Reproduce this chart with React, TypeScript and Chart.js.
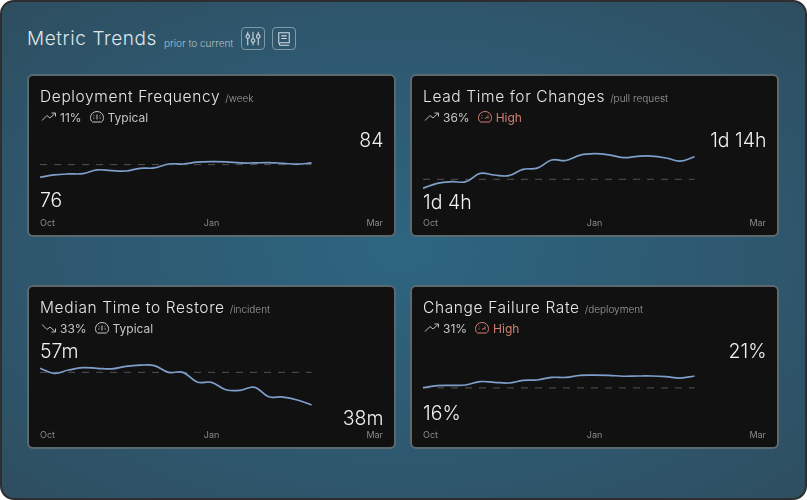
import React, { useEffect, useRef } from "react";
import { Chart, registerables } from "chart.js";

Chart.register(...registerables);

const xLabels = ["Oct","","","","","","","","","","","","Jan","","","","","","","","","","","","Mar"];

const deployValues = [76,77.3,77.85,78,80.1,79.7,79.5,81,81.2,83.4,83.4,84.4,84.7,84.6,84,84,84.2,83.8,83.3,84];
const deployRef = [83.05,83.05,83.05,83.05,83.05,83.05,83.05,83.05,83.05,83.05,83.05,83.05,83.05,83.05,83.05,83.05,83.05,83.05,83.05,83.05];

const leadValues = [28,29.56,30.09,30.09,32.7,32.2,32,34,34.4,36.95,36.8,38.5,38.95,38.6,37.7,38.1,38.2,37.6,36.6,38];
const leadRef = [30.85,30.85,30.85,30.85,30.85,30.85,30.85,30.85,30.85,30.85,30.85,30.85,30.85,30.85,30.85,30.85,30.85,30.85,30.85,30.85];

const restoreValues = [57,54.4,56.1,57.3,57,56.7,58,58.6,58.4,54.9,54.9,49.9,49.7,45.9,45.6,47.2,42.3,42.1,40.6,38];
const restoreRef = [54.9,54.9,54.9,54.9,54.9,54.9,54.9,54.9,54.9,54.9,54.9,54.9,54.9,54.9,54.9,54.9,54.9,54.9,54.9,54.9];

const failureValues = [16,16.86,17,17.14,18.6,18.3,18,19.1,19.3,20.4,20.4,21.3,21.4,21.3,20.9,21,21,20.7,20.1,21];
const failureRef = [15.9,15.9,15.9,15.9,15.9,15.9,15.9,15.9,15.9,15.9,15.9,15.9,15.9,15.9,15.9,15.9,15.9,15.9,15.9,15.9];

const FONT = "Inter, sans-serif";

type CardCfg = {
  left: number; top: number; height: number; padTop: number;
  title: string; unit: string;
  pct: string; down: boolean; status: string; high: boolean;
  first: string; firstY: number; last: string; lastY: number;
  values: number[]; ref: number[]; min: number; max: number;
};

const cards: CardCfg[] = [
  { left: 28, top: 75, height: 162, padTop: 55, title: "Deployment Frequency", unit: "/week", pct: "11%", down: false, status: "Typical", high: false, first: "76", firstY: 199.5, last: "84", lastY: 139.5, values: deployValues, ref: deployRef, min: 57.7, max: 102.4 },
  { left: 411, top: 75, height: 162, padTop: 55, title: "Lead Time for Changes", unit: "/pull request", pct: "36%", down: false, status: "High", high: true, first: "1d 4h", firstY: 201.5, last: "1d 14h", lastY: 139.5, values: leadValues, ref: leadRef, min: 21.13, max: 46.45 },
  { left: 28, top: 286, height: 163, padTop: 56, title: "Median Time to Restore", unit: "/incident", pct: "33%", down: true, status: "Typical", high: false, first: "57m", firstY: 350.5, last: "38m", lastY: 417.5, values: restoreValues, ref: restoreRef, min: 29.2, max: 70.6 },
  { left: 411, top: 286, height: 163, padTop: 56, title: "Change Failure Rate", unit: "/deployment", pct: "31%", down: false, status: "High", high: true, first: "16%", firstY: 412.5, last: "21%", lastY: 350.5, values: failureValues, ref: failureRef, min: 1.26, max: 35.6 },
];

function Trend({ down }: { down: boolean }) {
  const d = down ? "M1 3 L6 8 L9 5.5 L14 10 M10.5 10.5 H14.5 V7" : "M1 10 L6 5 L9 7.5 L14 3 M10.5 2.5 H14.5 V6";
  return (
    <svg width="16" height="13" viewBox="0 0 16 13" style={{ display: "block" }}>
      <path d={d} fill="none" stroke="#bdbdbd" strokeWidth="1" />
    </svg>
  );
}

function Gauge({ color, high }: { color: string; high: boolean }) {
  return (
    <svg width="14" height="13" viewBox="0 0 14 13" style={{ display: "block" }}>
      <path d="M2.5 11.5 C0.8 10.4 0.5 8.6 0.5 7 A6.5 6 0 0 1 13.5 7 C13.5 8.6 13.2 10.4 11.5 11.5 Z" fill="none" stroke={color} strokeWidth="1" />
      <path d={high ? "M7 8 L10.5 6" : "M7 9 V4"} stroke={color} strokeWidth="1" />
      <path d="M3 7.5 H4.5 M9.5 7.5 H11 M3.5 4.5 L4.5 5.2 M10.5 4.5 L9.5 5.2" stroke={color} strokeWidth="0.8" />
    </svg>
  );
}

function MiniChart({ cfg }: { cfg: CardCfg }) {
  const ref = useRef<HTMLCanvasElement | null>(null);
  useEffect(() => {
    const chart = new Chart(ref.current as HTMLCanvasElement, {
      type: "line",
      data: {
        labels: xLabels,
        datasets: [
          { data: cfg.values, borderColor: "#7f9fcb", borderWidth: 1.7, tension: 0.4, pointRadius: 0, order: 1, fill: false },
          { data: cfg.ref, borderColor: "#555555", borderWidth: 1, borderDash: [7, 7], pointRadius: 0, order: 2, fill: false },
        ],
      },
      options: {
        animation: false,
        responsive: false,
        layout: { padding: { left: 12, right: 12, top: cfg.padTop, bottom: 0 } },
        plugins: { legend: { display: false }, tooltip: { enabled: false } },
        scales: {
          x: {
            type: "category",
            offset: false,
            grid: { display: false, drawTicks: false },
            border: { display: false },
            afterFit: (s: any) => { s.height = 27; },
            ticks: { autoSkip: false, maxRotation: 0, align: "inner", padding: 8, color: "#8a8a8a", font: { family: FONT, size: 9 } },
          },
          y: { display: false, min: cfg.min, max: cfg.max },
        },
      } as any,
    });
    return () => chart.destroy();
  }, [cfg]);
  return (
    <canvas
      ref={ref}
      width={367}
      height={cfg.height}
      style={{ position: "absolute", left: cfg.left, top: cfg.top, width: 367, height: cfg.height }}
    />
  );
}

function Card({ cfg }: { cfg: CardCfg }) {
  const statusColor = cfg.high ? "#d27f70" : "#c4c4c4";
  const abs = (x: number, cy: number): React.CSSProperties => ({ position: "absolute", left: x, top: cy, transform: "translateY(-50%)", whiteSpace: "nowrap" });
  const textX = cfg.left + 12;
  const rowY = cfg.top + 42;
  const bigStyle: React.CSSProperties = { color: "#f1f1f1", fontSize: 19.5, fontFamily: FONT, fontWeight: 300 };
  return (
    <>
      <div style={{ position: "absolute", left: cfg.left - 1, top: cfg.top - 1, width: 369, height: cfg.height + 1, boxSizing: "border-box", background: "#111112", border: "2px solid #5c6a70", borderRadius: 6 }} />
      <MiniChart cfg={cfg} />
      <div style={{ ...abs(textX, cfg.top + 21), color: "#e6e6e6", fontFamily: FONT, fontWeight: 300 }}>
        <span style={{ fontSize: 15.5, letterSpacing: 0.63 }}>{cfg.title}</span>
        <span style={{ fontSize: 10, color: "#a0a0a0", marginLeft: 5 }}>{cfg.unit}</span>
      </div>
      <div style={{ ...abs(textX + 1, rowY), display: "flex", alignItems: "center", fontFamily: FONT, fontSize: 12, color: "#c8c8c8" }}>
        <Trend down={cfg.down} />
        <span style={{ marginLeft: 3 }}>{cfg.pct}</span>
        <span style={{ marginLeft: 8 }}><Gauge color={statusColor} high={cfg.high} /></span>
        <span style={{ marginLeft: 4, color: statusColor }}>{cfg.status}</span>
      </div>
      <div style={{ ...abs(textX, cfg.firstY), ...bigStyle }}>{cfg.first}</div>
      <div style={{ position: "absolute", right: 807 - (cfg.left + 355.5), top: cfg.lastY, transform: "translateY(-50%)", whiteSpace: "nowrap", ...bigStyle }}>{cfg.last}</div>
    </>
  );
}

export default function App() {
  const btn: React.CSSProperties = { position: "absolute", top: 27, width: 24, height: 23, boxSizing: "border-box", border: "1px solid #7f99a6", borderRadius: 4 };
  return (
    <div style={{ position: "absolute", left: 0, top: 0, width: 807, height: 500, overflow: "hidden", background: "#ffffff" }}>
      <div style={{ position: "absolute", inset: 0, boxSizing: "border-box", borderRadius: 14, border: "2px solid #2e2e30", background: "radial-gradient(ellipse 70% 70% at 50% 50%, #2d6580 0%, #2e586f 60%, #2e4e60 100%)" }} />
      <div style={{ position: "absolute", left: 27, top: 38, transform: "translateY(-50%)", color: "#dfe6ea", fontFamily: FONT, fontWeight: 300, fontSize: 19, letterSpacing: 0.6, whiteSpace: "nowrap" }}>Metric Trends</div>
      <div style={{ position: "absolute", left: 164, top: 43, transform: "translateY(-50%)", color: "#b4c0c6", fontFamily: FONT, fontWeight: 300, fontSize: 10, whiteSpace: "nowrap" }}>prior to current</div>
      <div style={{ ...btn, left: 241 }}>
        <svg width="22" height="21" viewBox="0 0 20 20">
          <path d="M5 3.5 V16.5 M10 3.5 V16.5 M15 3.5 V16.5" stroke="#d5dee3" strokeWidth="1" />
          <circle cx="5" cy="8" r="1.7" fill="#2e5a70" stroke="#d5dee3" /><circle cx="10" cy="12" r="1.7" fill="#2e5a70" stroke="#d5dee3" /><circle cx="15" cy="8" r="1.7" fill="#2e5a70" stroke="#d5dee3" />
        </svg>
      </div>
      <div style={{ ...btn, left: 272 }}>
        <svg width="22" height="21" viewBox="0 0 20 20">
          <path d="M5 14.5 V4.5 H15 V14 H6.5 A1.3 1.3 0 0 0 6.5 16.5 H15 M7.5 7.5 H12.5 M7.5 10 H12.5" fill="none" stroke="#d5dee3" strokeWidth="1" />
        </svg>
      </div>
      {cards.map((c) => <Card key={c.title} cfg={c} />)}
    </div>
  );
}
